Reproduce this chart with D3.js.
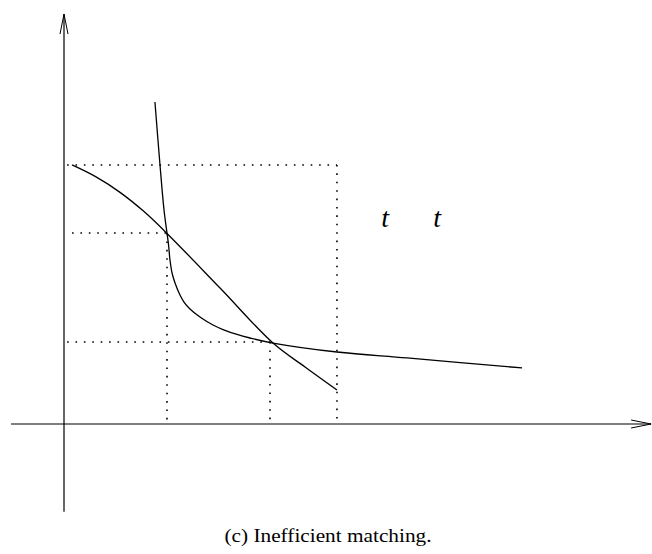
<!DOCTYPE html>
<html><head><meta charset="utf-8">
<script src="https://cdn.jsdelivr.net/npm/d3@7"></script>
<style>body{margin:0;background:#fff}svg{display:block}</style>
</head><body>
<script>
// Data (units: arbitrary)
const curveAx = [0.078,0.311,0.544,0.777,1.000,1.515,2.029,2.340,2.650];
const curveAy = [2.515,2.399,2.249,2.062,1.850,1.320,0.786,0.553,0.330];
const curveBx = [0.883,0.932,0.971,1.000,1.015,1.029,1.049,1.078,1.126,1.165,1.223,1.320,1.447,1.544,1.680,1.806,2.029,2.650,3.330,4.447];
const curveBy = [3.126,2.515,2.078,1.854,1.738,1.592,1.466,1.369,1.252,1.184,1.117,1.039,0.961,0.917,0.869,0.835,0.786,0.699,0.641,0.544];
// dotted guides: [x, y] corner points
const guideX = [1.0, 2.0, 2.650];
const guideY = [1.854, 0.796, 2.515];
const guideStartX = [0.078, 0.03, 0.03];
const labels = ["t", "t"];
const labelX = [3.08, 3.585];
const labelY = [1.91, 1.91];
const caption = "(c) Inefficient matching.";

const W = 652, H = 554;
const x = d3.scaleLinear().domain([0, 5]).range([64, 579]);
const y = d3.scaleLinear().domain([0, 4]).range([424, 12]);

const svg = d3.select("body").append("svg").attr("width", W).attr("height", H);
const serif = "'Liberation Serif', 'DejaVu Serif', serif";

// axes
const g = svg.append("g").attr("stroke", "#000").attr("fill", "none");
g.append("line").attr("x1", x(0)).attr("x2", x(0)).attr("y1", y(-0.852)).attr("y2", y(3.98))
  .attr("stroke-width", 1.2);
g.append("line").attr("x1", x(-0.515)).attr("x2", x(5.70)).attr("y1", y(0)).attr("y2", y(0))
  .attr("stroke-width", 1.2);
// y arrow head
g.append("path").attr("d", `M${x(0)-4},${y(3.98)+20} L${x(0)},${y(3.98)} L${x(0)+4},${y(3.98)+20}`).attr("stroke-width", 1);
// x arrow head
g.append("path").attr("d", `M${x(5.70)-20},${y(0)-4} L${x(5.70)},${y(0)} L${x(5.70)-20},${y(0)+4}`).attr("stroke-width", 1);

// dotted guides
const dots = svg.append("g").attr("stroke", "#000").attr("stroke-width", 1.6)
  .attr("stroke-dasharray", "1.6,6.8").attr("fill", "none");
guideX.forEach((gx, i) => {
  dots.append("line").attr("x1", x(guideStartX[i])).attr("x2", x(gx))
    .attr("y1", y(guideY[i])).attr("y2", y(guideY[i]));
  dots.append("line").attr("x1", x(gx)).attr("x2", x(gx))
    .attr("y1", y(guideY[i])).attr("y2", y(0));
});

// curves
const line = d3.line().x(d => x(d[0])).y(d => y(d[1])).curve(d3.curveCatmullRom.alpha(0.5));
const A = curveAx.map((v, i) => [v, curveAy[i]]);
const B = curveBx.map((v, i) => [v, curveBy[i]]);
svg.append("path").attr("d", line(A)).attr("fill", "none").attr("stroke", "#000").attr("stroke-width", 1.3);
svg.append("path").attr("d", line(B)).attr("fill", "none").attr("stroke", "#000").attr("stroke-width", 1.3);

// labels
labels.forEach((t, i) => {
  svg.append("text").attr("x", x(labelX[i])).attr("y", y(labelY[i]))
    .attr("font-family", serif).attr("font-style", "italic")
    .attr("font-size", 28).attr("fill", "#000").text(t);
});

svg.append("text").attr("x", 328).attr("y", 542).attr("text-anchor", "middle")
  .attr("font-family", serif).attr("font-size", 18.5).attr("fill", "#000")
  .attr("textLength", 207).attr("lengthAdjust", "spacingAndGlyphs")
  .text(caption);
</script>
</body></html>
